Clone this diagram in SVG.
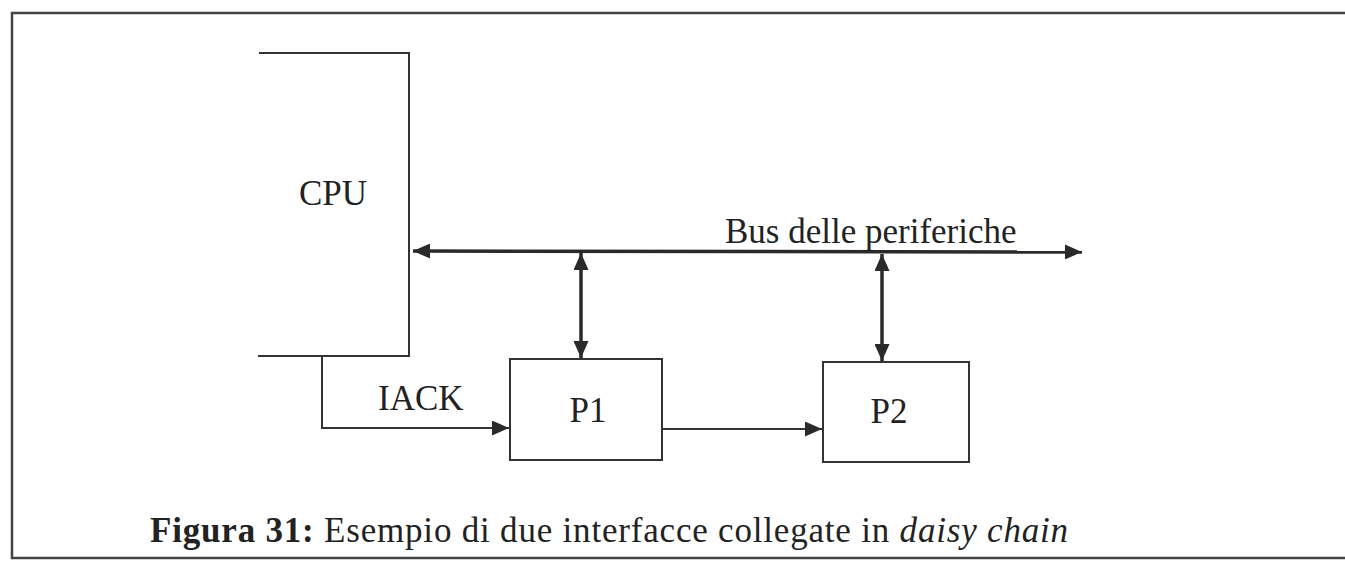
<svg xmlns="http://www.w3.org/2000/svg" width="1345" height="569" viewBox="0 0 1345 569">
<style>
.t{font-family:"Liberation Serif","Times New Roman",serif;fill:#222;font-size:35px}
.box{fill:none;stroke:#333;stroke-width:2}
.ln{fill:none;stroke:#333;stroke-width:2}
.bus{fill:none;stroke:#2a2a2a;stroke-width:3.5}
</style>
<defs>
<marker id="ah" viewBox="0 0 10 10" refX="10" refY="5" markerWidth="17" markerHeight="15" preserveAspectRatio="none" markerUnits="userSpaceOnUse" orient="auto-start-reverse"><path d="M0,0 L10,5 L0,10 z" fill="#2a2a2a"/></marker>
</defs>
<rect width="1345" height="569" fill="#fff"/>
<path d="M1345,13 H12 V558 H1345" fill="none" stroke="#444" stroke-width="2.5"/>
<g id="cpu">
<path class="box" d="M259,53 H409 V356 H258"/>
<text class="t" x="333" y="205" text-anchor="middle">CPU</text>
</g>
<g id="p1">
<rect class="box" x="510" y="359" width="152" height="101"/>
<text class="t" x="588" y="422" text-anchor="middle">P1</text>
</g>
<g id="p2">
<rect class="box" x="823" y="362" width="146" height="100"/>
<text class="t" x="889" y="423" text-anchor="middle">P2</text>
</g>
<g id="connectors">
<line class="bus" x1="413" y1="251" x2="1082" y2="252" marker-start="url(#ah)" marker-end="url(#ah)"/>
<line class="bus" x1="581" y1="253" x2="581" y2="358" marker-start="url(#ah)" marker-end="url(#ah)"/>
<line class="bus" x1="882" y1="254" x2="882" y2="361" marker-start="url(#ah)" marker-end="url(#ah)"/>
<path class="ln" d="M322,356 V428 H509" marker-end="url(#ah)"/>
<line class="ln" x1="662" y1="429" x2="822" y2="429" marker-end="url(#ah)"/>
<text class="t" x="378" y="410">IACK</text>
<text class="t" x="725" y="243" font-size="35.5">Bus delle periferiche</text>
</g>
<text class="t" x="150" y="542" font-size="37" textLength="918" lengthAdjust="spacing"><tspan font-weight="bold">Figura 31:</tspan> Esempio di due interfacce collegate in <tspan font-style="italic">daisy chain</tspan></text>
</svg>
